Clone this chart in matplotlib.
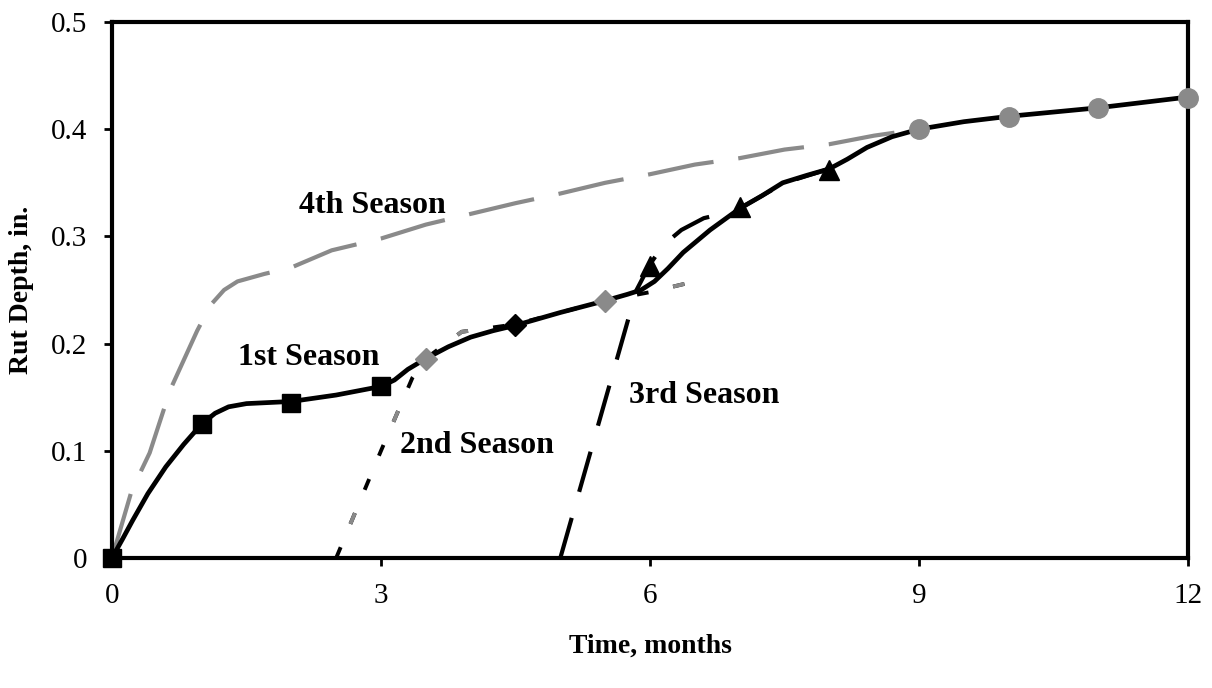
import matplotlib
matplotlib.use("Agg")
import matplotlib.pyplot as plt

plt.rcParams['font.family'] = ['Liberation Serif', 'DejaVu Serif']

# main (1st season) curve
main_x = [0, 0.12, 0.23, 0.4, 0.6, 0.8, 1, 1.15, 1.3, 1.5, 1.75, 2, 2.5, 3, 3.15, 3.3,
          3.5, 3.75, 4, 4.25, 4.5, 5, 5.5, 5.75, 5.9, 6.05, 6.2, 6.37, 6.67, 7, 7.25,
          7.48, 7.75, 8, 8.2, 8.42, 8.7, 9, 9.5, 10, 11, 12]
main_y = [0, 0.018, 0.035, 0.06, 0.085, 0.106, 0.125, 0.135, 0.141, 0.144, 0.145, 0.146,
          0.152, 0.16, 0.166, 0.176, 0.186, 0.197, 0.206, 0.212, 0.217, 0.229, 0.24,
          0.246, 0.25, 0.258, 0.27, 0.285, 0.306, 0.326, 0.338, 0.35, 0.357, 0.363,
          0.372, 0.383, 0.393, 0.4, 0.407, 0.412, 0.42, 0.43]

sq_x = [0, 1, 2, 3]
sq_y = [0, 0.125, 0.145, 0.16]

# 2nd season
s2_x = [2.5, 3.0, 3.35, 3.5, 3.9, 4.5, 5.0, 5.5, 6.0, 6.45]
s2_y = [0, 0.1, 0.168, 0.186, 0.211, 0.218, 0.229, 0.24, 0.248, 0.257]
gdia_x = [3.5, 5.5]
gdia_y = [0.186, 0.24]
bdia_x = [4.5]
bdia_y = [0.217]

# 3rd season
s3_x = [5.0, 5.5, 5.85, 6.0, 6.15, 6.35, 6.6, 6.85, 7.0, 7.5, 8.0]
s3_y = [0, 0.147, 0.25, 0.274, 0.292, 0.306, 0.317, 0.322, 0.326, 0.35, 0.363]
tri_x = [6, 7, 8]
tri_y = [0.272, 0.327, 0.362]

# 4th season
s4_x = [0, 0.22, 0.42, 0.65, 0.95, 1.1, 1.25, 1.4, 1.7, 2.0, 2.45, 3.0, 3.5, 4.0, 4.5,
        5.0, 5.5, 6.0, 6.5, 7.0, 7.5, 8.0, 8.5, 9]
s4_y = [0, 0.063, 0.098, 0.157, 0.212, 0.236, 0.25, 0.258, 0.265, 0.271, 0.287, 0.298,
        0.311, 0.321, 0.331, 0.34, 0.35, 0.358, 0.367, 0.373, 0.381, 0.386, 0.394, 0.4]
circ_x = [9, 10, 11, 12]
circ_y = [0.4, 0.411, 0.42, 0.429]

labels = ["1st Season", "2nd Season", "3rd Season", "4th Season"]
label_pos = [(2.19, 0.187), (4.07, 0.105), (6.6, 0.152), (2.9, 0.329)]

gray = '#8a8a8a'

fig = plt.figure(figsize=(12.12, 6.88), dpi=100)
ax = fig.add_axes([0.0924, 0.189, 0.8878, 0.779])

ax.plot(s4_x, s4_y, color=gray, lw=3, linestyle=(0, (16, 6)), zorder=2)
ax.plot(s2_x, s2_y, color='black', lw=2.8, linestyle=(0, (3, 6.5)), zorder=2)
ax.plot(s2_x, s2_y, color=gray, lw=2.8, linestyle=(19, (3, 25.5)), zorder=2)
ax.plot(s3_x, s3_y, color='black', lw=3, linestyle=(0, (10, 6.5)), zorder=2)

ax.plot(main_x, main_y, color='black', lw=3.4, zorder=3,
        solid_joinstyle='round', solid_capstyle='round')
ax.plot(sq_x, sq_y, 's', color='black', ms=13, zorder=4, clip_on=False)
ax.plot(gdia_x, gdia_y, 'D', color=gray, ms=11, zorder=4)
ax.plot(bdia_x, bdia_y, 'D', color='black', ms=11, zorder=4)
ax.plot(tri_x, tri_y, '^', color='black', ms=14, zorder=4)
ax.plot(circ_x, circ_y, 'o', color=gray, ms=14, zorder=4, clip_on=False)

for txt, (lx, ly) in zip(labels, label_pos):
    ax.text(lx, ly, txt, fontsize=23, fontweight='bold', ha='center', va='center')

ax.set_xlim(0, 12)
ax.set_ylim(0, 0.5)
ax.set_xticks([0, 3, 6, 9, 12])
ax.set_yticks([0, 0.1, 0.2, 0.3, 0.4, 0.5])
ax.set_yticklabels(['0', '0.1', '0.2', '0.3', '0.4', '0.5'])
ax.tick_params(direction='out', length=6, width=2, labelsize=21, pad=12)
for sp in ax.spines.values():
    sp.set_linewidth(3)

ax.set_xlabel('Time, months', fontsize=20, fontweight='bold', labelpad=18)
ax.set_ylabel('Rut Depth, in.', fontsize=20, fontweight='bold', labelpad=12)

fig.savefig('out.png', dpi=100)
